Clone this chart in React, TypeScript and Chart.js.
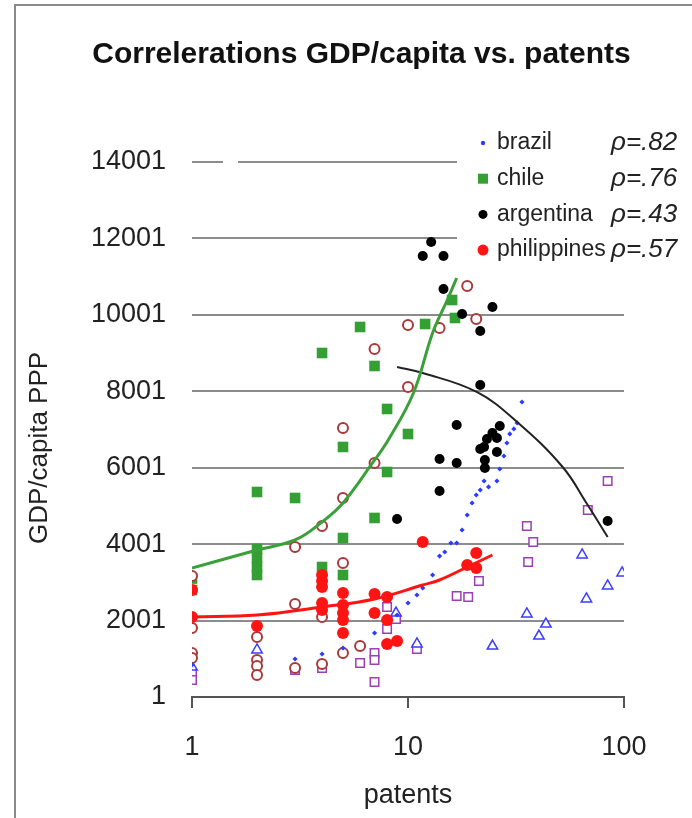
import React, { useEffect, useRef } from "react";
import { Chart, registerables } from "chart.js";

Chart.register(...registerables);

const FONT = '"Liberation Sans", Arial, Helvetica, sans-serif';

const titleText = "Correlerations GDP/capita vs. patents";
const xAxisTitle = "patents";
const yAxisTitle = "GDP/capita PPP";
const xTickValues = [1, 10, 100];
const yTickValues = [1, 2001, 4001, 6001, 8001, 10001, 12001, 14001];

const legendNames = ["brazil", "chile", "argentina", "philippines"];
const legendRho = ["ρ=.82", "ρ=.76", "ρ=.43", "ρ=.57"];

// brazil (small blue dots)
const brazilX = [1, 3, 4, 5, 7, 8.9, 10, 11, 11.7, 13, 14, 14.8, 15.8, 16.8, 17.8, 18.8, 19.8, 20.7, 21.6, 22.5, 23.6, 25.8, 26.6, 27.8, 28.7, 29.6, 30.9, 32, 33.7];
const brazilY = [838, 995, 1126, 1283, 1676, 2147, 2461, 2670, 2853, 3194, 3690, 3795, 4031, 4031, 4371, 4764, 5078, 5287, 5418, 5653, 5497, 5653, 5967, 6308, 6648, 6884, 7015, 7172, 7721];

// chile (green squares)
const chileX = [1, 1, 2, 2, 2, 2, 2, 3, 4, 4, 5, 5, 5, 6, 7, 7, 8, 8, 10, 12, 16, 16.5];
const chileY = [2800, 3100, 3194, 3403, 3639, 3874, 5366, 5209, 3403, 9003, 3194, 4162, 6544, 9684, 4686, 8663, 5889, 7538, 6883, 9762, 10390, 9919];

// argentina (black dots)
const argentinaX = [12.8, 11.7, 14.6, 14.6, 24.6, 17.8, 21.6, 21.6, 16.8, 26.6, 24.6, 25.8, 23.2, 22.5, 25.8, 21.6, 22.7, 22.7, 14, 16.8, 14, 8.9, 84];
const argentinaY = [11908, 11541, 11541, 10679, 10207, 10024, 9579, 8166, 7119, 7093, 6910, 6779, 6753, 6544, 6412, 6490, 6203, 5994, 6229, 6125, 5392, 4659, 4607];

// philippines (red dots)
const philippinesX = [1, 1, 2, 4, 4, 4, 4, 4, 5, 5, 5, 5, 5, 7, 7, 8, 8, 8, 8.9, 11.7, 20.7, 18.8, 20.7];
const philippinesY = [2801, 2094, 1859, 3194, 3037, 2880, 2461, 2278, 2723, 2409, 2199, 2016, 1676, 2696, 2199, 2618, 2016, 1388, 1467, 4057, 3770, 3456, 3377];

// unlabeled series: brown open circles
const brownX = [1, 1, 1, 1, 2, 2, 2, 2, 3, 3, 3, 4, 4, 4, 5, 5, 5, 5, 6, 7, 7, 10, 10, 14, 18.8, 20.7];
const brownY = [3168, 1807, 1152, 1021, 1571, 969, 812, 577, 3927, 2435, 760, 4476, 2094, 865, 7040, 5209, 3508, 1152, 1335, 9108, 6125, 9735, 8114, 9657, 10757, 9893];

// unlabeled series: purple open squares
const purpleX = [1, 1, 3, 4, 6, 7, 7, 7, 8, 8, 8.8, 11, 16.8, 19, 21.3, 36, 38, 35.5, 68, 84];
const purpleY = [629, 446, 708, 760, 891, 1152, 969, 394, 2356, 1780, 2042, 1257, 2643, 2617, 3036, 3534, 4057, 4476, 4895, 5653];

// unlabeled series: blue open triangles
const triX = [1, 2, 8.8, 11, 24.6, 35.5, 40.4, 43.5, 64, 67, 84, 98];
const triY = [786, 1231, 2199, 1388, 1335, 2173, 1597, 1911, 3717, 2566, 2906, 3246];

// trend lines
const chileTrendX = [1, 2, 3, 4, 5, 6.9, 8.1, 10.6, 13, 15.2, 16.8];
const chileTrendY = [3377, 3848, 4110, 4581, 5078, 6151, 6727, 7957, 9527, 10390, 10966];
const argentinaTrendX = [8.9, 11.7, 20.8, 32, 52, 67, 84];
const argentinaTrendY = [8637, 8480, 7983, 7198, 6020, 5078, 4188];
const philippinesTrendX = [1, 2, 4, 7, 11.7, 14, 18.8, 24.6];
const philippinesTrendY = [2094, 2146, 2356, 2566, 2932, 3063, 3403, 3717];

const zip = (xs: number[], ys: number[]) => xs.map((x, i) => ({ x, y: ys[i] }));

const COLORS = {
  brazil: "#2a3cff",
  chile: "#34a034",
  argentina: "#000000",
  philippines: "#ff1414",
  brown: "#a83a3a",
  purple: "#9b3fb5",
  tri: "#3c3cff",
};

const framePlugin = {
  id: "frameAndLegend",
  beforeDraw(chart: any) {
    const ctx = chart.ctx;
    ctx.save();
    ctx.fillStyle = "#ffffff";
    ctx.fillRect(0, 0, chart.width, chart.height);
    ctx.strokeStyle = "#8a8a8a";
    ctx.lineWidth = 2;
    ctx.beginPath();
    ctx.moveTo(15, chart.height);
    ctx.lineTo(15, 5);
    ctx.lineTo(chart.width, 5);
    ctx.stroke();
    ctx.restore();
  },
  beforeDatasetsDraw(chart: any) {
    const ctx = chart.ctx;
    const y = chart.scales.y;
    ctx.save();
    ctx.fillStyle = "#ffffff";
    ctx.fillRect(457, 118, 230, 155);
    const yTop = y.getPixelForValue(yTickValues[yTickValues.length - 1]);
    ctx.fillRect(223, yTop - 3, 15, 6);
    ctx.restore();
  },
  afterDraw(chart: any) {
    const ctx = chart.ctx;
    ctx.save();
    // y-axis title
    ctx.translate(40, 448);
    ctx.rotate(-Math.PI / 2);
    ctx.fillStyle = "#222";
    ctx.textAlign = "center";
    ctx.textBaseline = "middle";
    ctx.font = `26px ${FONT}`;
    ctx.fillText(yAxisTitle, 0, 0);
    ctx.restore();

    ctx.save();
    const rowY0 = 143;
    const step = 35.7;
    const markerX = 483;
    const textX = 497;
    const rhoX = 611;
    legendNames.forEach((name, i) => {
      const cy = rowY0 + i * step;
      ctx.beginPath();
      if (i === 0) {
        ctx.fillStyle = COLORS.brazil;
        ctx.arc(markerX, cy, 2.2, 0, Math.PI * 2);
        ctx.fill();
      } else if (i === 1) {
        ctx.fillStyle = COLORS.chile;
        ctx.fillRect(markerX - 5, cy - 5, 10, 10);
      } else if (i === 2) {
        ctx.fillStyle = COLORS.argentina;
        ctx.arc(markerX, cy, 4.5, 0, Math.PI * 2);
        ctx.fill();
      } else {
        ctx.fillStyle = COLORS.philippines;
        ctx.arc(markerX, cy, 5.5, 0, Math.PI * 2);
        ctx.fill();
      }
      ctx.fillStyle = "#222";
      ctx.textBaseline = "middle";
      ctx.textAlign = "left";
      ctx.font = `23px ${FONT}`;
      ctx.fillText(name, textX, cy);
      ctx.font = `italic 26px ${FONT}`;
      ctx.fillText(legendRho[i], rhoX, cy);
    });
    ctx.restore();
  },
};

export default function App() {
  const canvasRef = useRef<HTMLCanvasElement | null>(null);

  useEffect(() => {
    if (!canvasRef.current) return;
    const chart = new Chart(canvasRef.current, {
      type: "scatter",
      data: {
        datasets: [
          {
            label: "philippines trend",
            data: zip(philippinesTrendX, philippinesTrendY),
            showLine: true,
            borderColor: COLORS.philippines,
            borderWidth: 3,
            pointRadius: 0,
            tension: 0.4,
            fill: false,
          },
          {
            label: "chile trend",
            data: zip(chileTrendX, chileTrendY),
            showLine: true,
            borderColor: "#3aa03a",
            borderWidth: 3,
            pointRadius: 0,
            tension: 0.4,
            fill: false,
          },
          {
            label: "argentina trend",
            data: zip(argentinaTrendX, argentinaTrendY),
            showLine: true,
            borderColor: "#222",
            borderWidth: 2,
            pointRadius: 0,
            tension: 0.4,
            fill: false,
          },
          {
            label: "philippines",
            data: zip(philippinesX, philippinesY),
            pointStyle: "circle",
            pointRadius: 6,
            backgroundColor: COLORS.philippines,
            borderColor: COLORS.philippines,
            borderWidth: 0,
          },
          {
            label: "argentina",
            data: zip(argentinaX, argentinaY),
            pointStyle: "circle",
            pointRadius: 5,
            backgroundColor: COLORS.argentina,
            borderColor: COLORS.argentina,
            borderWidth: 0,
          },
          {
            label: "brazil",
            data: zip(brazilX, brazilY),
            pointStyle: "rectRot",
            pointRadius: 2.6,
            backgroundColor: COLORS.brazil,
            borderColor: COLORS.brazil,
            borderWidth: 0,
          },
          {
            label: "brown",
            data: zip(brownX, brownY),
            pointStyle: "circle",
            pointRadius: 5,
            backgroundColor: "#ffffff",
            borderColor: COLORS.brown,
            borderWidth: 2,
          },
          {
            label: "triangles",
            data: zip(triX, triY),
            pointStyle: "triangle",
            pointRadius: 6,
            backgroundColor: "#ffffff",
            borderColor: COLORS.tri,
            borderWidth: 1.5,
          },
          {
            label: "purple",
            data: zip(purpleX, purpleY),
            pointStyle: "rect",
            pointRadius: 6,
            backgroundColor: "#ffffff",
            borderColor: COLORS.purple,
            borderWidth: 1.5,
          },
          {
            label: "chile",
            data: zip(chileX, chileY),
            pointStyle: "rect",
            pointRadius: 7.5,
            backgroundColor: COLORS.chile,
            borderColor: COLORS.chile,
            borderWidth: 0,
          },
        ],
      },
      options: {
        animation: false,
        responsive: false,
        devicePixelRatio: 1,
        layout: { padding: { left: 31, right: 0, top: 0, bottom: 0 } },
        plugins: {
          legend: { display: false },
          tooltip: { enabled: false },
          title: {
            display: true,
            text: titleText,
            color: "#111",
            font: { family: FONT, size: 30, weight: "bold", lineHeight: 1.2 },
            padding: { top: 37, bottom: 89 },
          },
        },
        scales: {
          x: {
            type: "logarithmic",
            min: 1,
            max: 100,
            afterBuildTicks: (s: any) => {
              s.ticks = xTickValues.map((v) => ({ value: v }));
            },
            afterFit: (s: any) => {
              s.height = 121;
            },
            ticks: {
              color: "#222",
              font: { family: FONT, size: 27 },
              padding: 23,
              autoSkip: false,
              maxRotation: 0,
              callback: (v: any) => String(v),
            },
            grid: {
              drawOnChartArea: false,
              drawTicks: true,
              tickLength: 11,
              color: "#555",
              lineWidth: 2,
            },
            border: { display: true, color: "#555", width: 2 },
            title: {
              display: true,
              text: xAxisTitle,
              color: "#222",
              font: { family: FONT, size: 27, lineHeight: 1.2 },
              padding: { top: 6, bottom: 6 },
            },
          },
          y: {
            type: "linear",
            min: 1,
            max: 14001,
            afterBuildTicks: (s: any) => {
              s.ticks = yTickValues.map((v) => ({ value: v }));
            },
            afterFit: (s: any) => {
              s.width = 161;
            },
            ticks: {
              color: "#222",
              font: { family: FONT, size: 27 },
              padding: 26,
              callback: (v: any) => String(v),
            },
            grid: { drawTicks: false, color: "#8c8c8c", lineWidth: 2 },
            border: { display: false },
            title: { display: false, text: yAxisTitle },
          },
          yRightSpace: {
            type: "linear",
            position: "right",
            min: 1,
            max: 14001,
            afterFit: (s: any) => {
              s.width = 68;
            },
            ticks: { display: false },
            grid: { drawOnChartArea: false, drawTicks: false, display: false },
            border: { display: false },
            title: { display: false },
          },
        },
      },
      plugins: [framePlugin],
    } as any);
    return () => chart.destroy();
  }, []);

  return (
    <div style={{ position: "absolute", left: 0, top: 0, width: 692, height: 818, background: "#fff" }}>
      <canvas ref={canvasRef} width={692} height={818} style={{ display: "block", width: 692, height: 818 }} />
    </div>
  );
}
